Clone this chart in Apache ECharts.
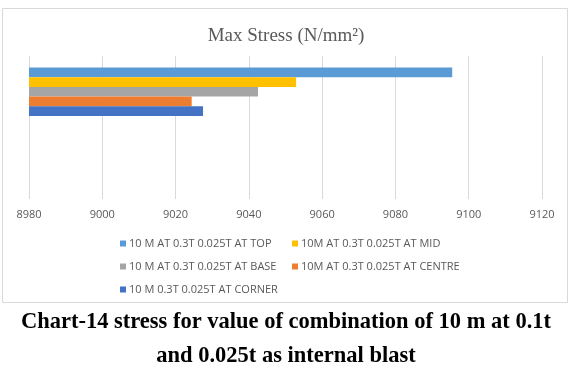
<!DOCTYPE html>
<html>
<head>
<meta charset="utf-8">
<script src="https://cdn.jsdelivr.net/npm/echarts@6/dist/echarts.min.js"></script>
<style>
html,body{margin:0;padding:0;background:#fff;}
#c{width:572px;height:367px;}
</style>
</head>
<body>
<div id="c"></div>
<script>
const categories = ['Max Stress', ''];
const seriesNames = [
  '10 M AT 0.3T 0.025T AT TOP',
  '10M AT 0.3T 0.025T AT MID',
  '10 M AT 0.3T 0.025T AT BASE',
  '10M AT 0.3T 0.025T AT CENTRE',
  '10 M 0.3T 0.025T AT CORNER'
];
const topValues = [9095.5, null];
const midValues = [9052.9, null];
const baseValues = [9042.5, null];
const centreValues = [9024.4, null];
const cornerValues = [9027.5, null];
const seriesValues = [topValues, midValues, baseValues, centreValues, cornerValues];
const colors = ['#5B9BD5', '#FFC000', '#A5A5A5', '#ED7D31', '#4472C4'];
const xTicks = { min: 8980, max: 9120, interval: 20 };
const titleText = 'Max Stress (N/mm²)';
const captionLines = ['Chart-14 stress for value of combination of 10 m at 0.1t', 'and 0.025t as internal blast'];

const legendPos = [
  {left: 115, top: 233}, {left: 287, top: 233},
  {left: 115, top: 256}, {left: 287, top: 256},
  {left: 115, top: 279}
];

const chart = echarts.init(document.getElementById('c'), null, {renderer: 'canvas'});
chart.setOption({
  backgroundColor: '#fff',
  animation: false,
  title: {
    text: titleText,
    left: 'center',
    top: 22,
    textStyle: {fontFamily: 'Liberation Serif', fontWeight: 'normal', fontSize: 19, color: '#595959'}
  },
  legend: seriesNames.map((n, i) => ({
    data: [n],
    left: legendPos[i].left,
    top: legendPos[i].top,
    itemWidth: 6, itemHeight: 6, itemGap: 4,
    icon: 'rect',
    textStyle: {fontFamily: 'Open Sans', fontSize: 11, color: '#595959', padding: [0,0,0,-2]},
    selectedMode: false
  })),
  grid: {left: 29, right: 30, top: 56, bottom: 168, containLabel: false},
  xAxis: {
    type: 'value', min: xTicks.min, max: xTicks.max, interval: xTicks.interval,
    axisLine: {show: false}, axisTick: {show: false},
    splitLine: {show: true, lineStyle: {color: '#d9d9d9', width: 1}},
    axisLabel: {fontFamily: 'Open Sans', fontSize: 11, color: '#595959', margin: 10,
                formatter: v => String(v)}
  },
  yAxis: {
    type: 'category', data: categories, inverse: true,
    axisLine: {show: false}, axisTick: {show: false}, axisLabel: {show: false}
  },
  series: seriesNames.map((n, i) => ({
    name: n, type: 'bar', data: seriesValues[i],
    barWidth: 9.7, barGap: '0%',
    itemStyle: {color: colors[i]}
  })),
  graphic: [
    {type: 'rect', shape: {x: 2.5, y: 8.5, width: 565, height: 294},
     style: {fill: null, stroke: '#d9d9d9', lineWidth: 1}, z: -1},
    {type: 'text', left: 'center', top: 311,
     style: {text: captionLines[0], font: 'bold 22.5px "Liberation Serif"', fill: '#000'}},
    {type: 'text', left: 'center', top: 345,
     style: {text: captionLines[1], font: 'bold 22.5px "Liberation Serif"', fill: '#000'}}
  ]
});
</script>
</body>
</html>
